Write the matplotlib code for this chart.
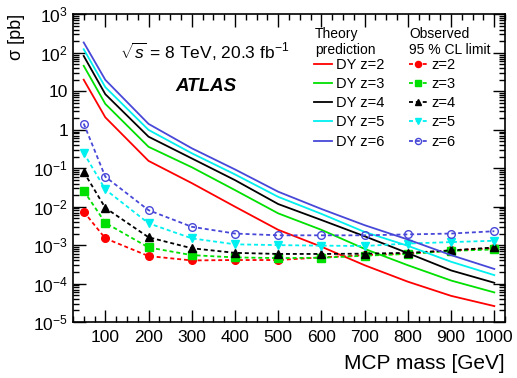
import math
import matplotlib
matplotlib.use("Agg")
import matplotlib.pyplot as plt
from matplotlib.ticker import FixedLocator, LogLocator, FuncFormatter, NullFormatter, MultipleLocator

plt.rcParams['font.family'] = ['Liberation Sans', 'DejaVu Sans']
plt.rcParams['mathtext.fontset'] = 'custom'
plt.rcParams['mathtext.rm'] = 'Liberation Sans'
plt.rcParams['mathtext.it'] = 'Liberation Sans:italic'
plt.rcParams['mathtext.bf'] = 'Liberation Sans:bold'

# MCP masses [GeV]
mass = [50, 100, 200, 300, 400, 500, 600, 700, 800, 900, 1000]

# theory prediction (Drell-Yan) cross sections [pb]
dy_z2 = [20, 2.1, 0.155, 0.041, 0.01, 0.0025, 0.00091, 0.0003, 0.000112, 0.000048, 0.000026]
dy_z3 = [46, 4.7, 0.36, 0.106, 0.027, 0.0067, 0.0025, 0.0008, 0.0003, 0.00012, 0.000059]
dy_z4 = [83, 8.4, 0.66, 0.18, 0.049, 0.0117, 0.0045, 0.0017, 0.00062, 0.00022, 0.000105]
dy_z5 = [124, 12.8, 0.99, 0.245, 0.069, 0.018, 0.0065, 0.0022, 0.00096, 0.00037, 0.000166]
dy_z6 = [186, 19.8, 1.42, 0.33, 0.093, 0.0245, 0.0087, 0.0033, 0.0014, 0.00055, 0.00024]

# observed 95% CL limits [pb]
obs_z2 = [0.0074, 0.0015, 0.00052, 0.0004, 0.00041, 0.00041, 0.00048, 0.00055, 0.0006, 0.00073, 0.00083]
obs_z3 = [0.026, 0.0038, 0.00087, 0.00055, 0.00048, 0.00046, 0.00047, 0.00053, 0.00059, 0.00071, 0.00077]
obs_z4 = [0.08, 0.0093, 0.0016, 0.00083, 0.00063, 0.00059, 0.00059, 0.0006, 0.00063, 0.00073, 0.00087]
obs_z5 = [0.25, 0.028, 0.0037, 0.0015, 0.00105, 0.001, 0.00097, 0.00095, 0.0011, 0.0012, 0.0013]
obs_z6 = [1.45, 0.06, 0.0081, 0.003, 0.002, 0.0018, 0.0018, 0.0018, 0.0019, 0.002, 0.0023]

theory = [dy_z2, dy_z3, dy_z4, dy_z5, dy_z6]
observed = [obs_z2, obs_z3, obs_z4, obs_z5, obs_z6]
charges = [2, 3, 4, 5, 6]
colors = ['#ff0000', '#00e000', '#000000', '#00f0f0', '#4848d8']
markers = ['o', 's', '^', 'v', 'o']

fig = plt.figure(figsize=(5.17, 3.78), dpi=100)
ax = fig.add_axes([0.141, 0.148, 0.836, 0.814])

th_handles = []
ob_handles = []
for z, th, ob, c, m in zip(charges, theory, observed, colors, markers):
    h1, = ax.plot(mass, th, '-', color=c, lw=1.3)
    th_handles.append(h1)
    face = 'none' if z == 6 else c
    h2, = ax.plot(mass, ob, linestyle=(0, (2.2, 1.6)), color=c, lw=1.3,
                  marker=m, markersize=5.5, markerfacecolor=face, markeredgecolor=c)
    ob_handles.append(h2)

ax.set_yscale('log')
ax.set_xlim(25, 1025)
ax.set_ylim(1e-5, 1e3)

ax.xaxis.set_major_locator(FixedLocator([100, 200, 300, 400, 500, 600, 700, 800, 900, 1000]))
ax.xaxis.set_minor_locator(MultipleLocator(25))
ax.yaxis.set_major_locator(LogLocator(base=10, numticks=20))
ax.yaxis.set_minor_locator(LogLocator(base=10, subs=range(2, 10), numticks=20))
ax.yaxis.set_minor_formatter(NullFormatter())

def ylab(v, pos):
    e = int(round(math.log10(v)))
    if e == 0:
        return '1'
    if e == 1:
        return '10'
    return '$10^{%d}$' % e

ax.yaxis.set_major_formatter(FuncFormatter(ylab))
ax.tick_params(which='both', direction='in', top=True, right=True, labelsize=12.5)
ax.tick_params(which='major', length=9, width=1)
ax.tick_params(which='minor', length=4.5, width=1)
ax.tick_params(axis='x', pad=6)
for s in ax.spines.values():
    s.set_linewidth(1.2)

ax.set_xlabel('MCP mass [GeV]', fontsize=15, loc='right', labelpad=6)
ax.set_ylabel('σ [pb]', fontsize=13, loc='top', labelpad=6)

ax.text(0.11, 0.855, r'$\sqrt{s}$ = 8 TeV, 20.3 fb$^{-1}$', transform=ax.transAxes, fontsize=12.5)
ax.text(0.237, 0.75, 'ATLAS', transform=ax.transAxes, fontsize=13.5,
        fontweight='bold', style='italic')

# legend headers
ax.text(0.56, 0.87, 'Theory\nprediction', transform=ax.transAxes, fontsize=10,
        linespacing=1.2)
ax.text(0.778, 0.87, 'Observed\n95 % CL limit', transform=ax.transAxes, fontsize=10,
        linespacing=1.2)

leg1 = ax.legend(th_handles, ['DY z=%d' % z for z in charges],
                 loc='upper left', bbox_to_anchor=(0.545, 0.878), frameon=False,
                 fontsize=10.5, handlelength=1.2,
                 handletextpad=0.3, labelspacing=0.36, borderaxespad=0)
ax.add_artist(leg1)
ax.legend(ob_handles, ['z=%d' % z for z in charges],
          loc='upper left', bbox_to_anchor=(0.765, 0.878), frameon=False,
          fontsize=10.5, handlelength=1.2,
          handletextpad=0.3, labelspacing=0.36, borderaxespad=0, markerscale=0.8)

fig.savefig('out.png', dpi=100)
